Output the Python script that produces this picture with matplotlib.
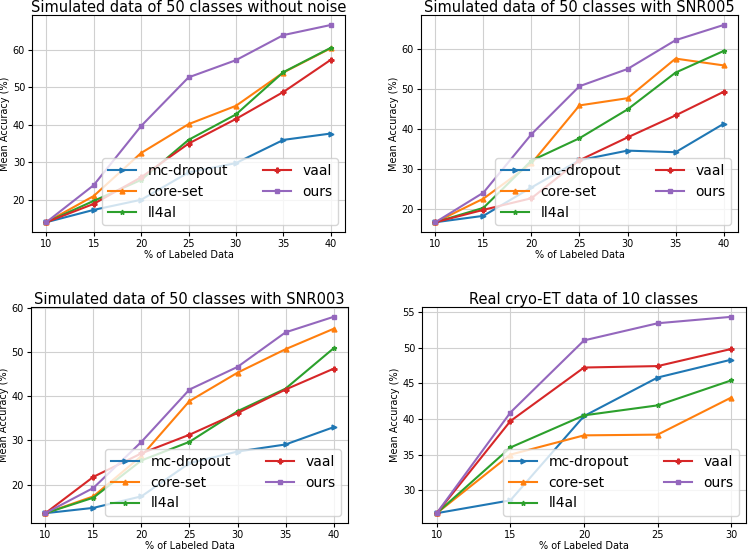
import matplotlib
matplotlib.use("Agg")
import matplotlib.pyplot as plt

methods = ["mc-dropout", "core-set", "ll4al", "vaal", "ours"]
colors = ["#1f77b4", "#ff7f0e", "#2ca02c", "#d62728", "#9467bd"]
markers = [">", "^", "*", "P", "s"]

x_sim = [10, 15, 20, 25, 30, 35, 40]
x_real = [10, 15, 20, 25, 30]

titles = [
    "Simulated data of 50 classes without noise",
    "Simulated data of 50 classes with SNR005",
    "Simulated data of 50 classes with SNR003",
    "Real cryo-ET data of 10 classes",
]

no_noise = {
    "mc-dropout": [14.0, 17.3, 20.0, 27.3, 29.8, 36.0, 37.7],
    "core-set":   [14.0, 21.0, 32.5, 40.2, 45.1, 54.0, 60.5],
    "ll4al":      [14.0, 19.7, 25.3, 36.0, 42.8, 54.1, 60.6],
    "vaal":       [14.0, 18.9, 26.0, 35.0, 41.6, 48.8, 57.4],
    "ours":       [14.0, 23.9, 39.7, 52.7, 57.3, 64.0, 66.7],
}
snr005 = {
    "mc-dropout": [16.8, 18.4, 25.5, 32.3, 34.7, 34.3, 41.4],
    "core-set":   [16.8, 22.7, 31.5, 46.0, 47.8, 57.7, 56.0],
    "ll4al":      [16.8, 20.4, 32.2, 37.8, 45.0, 54.2, 59.6],
    "vaal":       [16.8, 19.9, 22.8, 32.3, 38.0, 43.5, 49.4],
    "ours":       [16.8, 24.2, 38.8, 50.8, 55.1, 62.3, 66.1],
}
snr003 = {
    "mc-dropout": [13.6, 14.8, 17.4, 24.9, 27.5, 29.1, 33.0],
    "core-set":   [13.6, 17.4, 26.5, 38.9, 45.3, 50.6, 55.2],
    "ll4al":      [13.6, 17.1, 25.5, 29.7, 36.6, 41.7, 50.8],
    "vaal":       [13.6, 21.8, 27.1, 31.3, 36.2, 41.5, 46.2],
    "ours":       [13.6, 19.3, 29.7, 41.5, 46.6, 54.4, 57.9],
}
real = {
    "mc-dropout": [26.8, 28.6, 40.4, 45.8, 48.3],
    "core-set":   [26.8, 35.0, 37.7, 37.8, 43.0],
    "ll4al":      [26.8, 36.0, 40.5, 41.9, 45.4],
    "vaal":       [26.8, 39.7, 47.2, 47.4, 49.8],
    "ours":       [26.8, 40.9, 51.0, 53.4, 54.3],
}

datasets = [(x_sim, no_noise), (x_sim, snr005), (x_sim, snr003), (x_real, real)]

positions = [
    [0.0427, 0.578, 0.4173, 0.3945],
    [0.5613, 0.578, 0.4227, 0.3945],
    [0.0413, 0.0491, 0.4227, 0.3927],
    [0.5627, 0.0491, 0.432, 0.3927],
]

fig = plt.figure(figsize=(7.5, 5.5), dpi=100)
for pos, title, (xs, data) in zip(positions, titles, datasets):
    ax = fig.add_axes(pos)
    for m, c, mk in zip(methods, colors, markers):
        ax.plot(xs, data[m], color=c, marker=mk, markersize=3.5, linewidth=1.5, label=m)
    ax.set_title(title, fontsize=10.5, pad=1.5)
    ax.set_xlabel("% of Labeled Data", fontsize=7, labelpad=1)
    ax.set_ylabel("Mean Accuracy (%)", fontsize=7, labelpad=2)
    ax.set_xticks(xs)
    ax.tick_params(labelsize=7, pad=2, length=3)
    ax.grid(True, color="#d0d0d0", linewidth=0.8)
    ax.legend(loc="lower right", ncol=2, fontsize=10, handlelength=2.0,
              borderpad=0.4, labelspacing=0.5, columnspacing=2.5, handletextpad=0.85)

fig.savefig("out.png", dpi=100)
